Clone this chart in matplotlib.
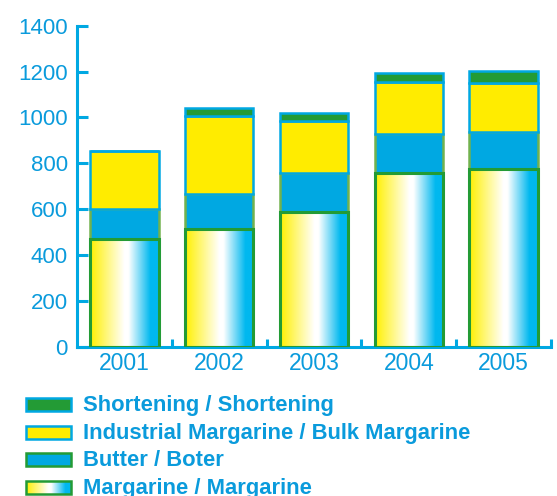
import numpy as np
import matplotlib
matplotlib.use('Agg')
import matplotlib.pyplot as plt
from matplotlib.patches import Rectangle
from matplotlib.colors import LinearSegmentedColormap

years = ['2001', '2002', '2003', '2004', '2005']
margarine = [468, 512, 586, 756, 776]
butter = [131, 154, 173, 172, 162]
industrial = [254, 340, 227, 225, 213]
shortening = [0, 34, 35, 39, 53]

labels = ['Shortening / Shortening',
          'Industrial Margarine / Bulk Margarine',
          'Butter / Boter',
          'Margarine / Margarine']

BLUE_TXT = '#0a9bdc'
BLUE = '#00a8e2'
YELLOW = '#ffec00'
GREEN = '#239b35'
LGREEN = '#72b24e'

grad = LinearSegmentedColormap.from_list(
    'marg', [(0, '#fff000'), (0.5, '#ffffff'), (0.56, '#ffffff'),
             (0.88, '#00b8ef'), (1, '#00b8ef')])

plt.rcParams['font.family'] = ['Liberation Sans', 'DejaVu Sans']

W, H = 557, 496
fig = plt.figure(figsize=(W / 100, H / 100), dpi=100)
ax = fig.add_axes([77 / W, 1 - 346.7 / H, 474 / W, 321 / H])

x = np.arange(len(years))
w = 0.72
m = np.array(margarine)
b = np.array(butter)
ind = np.array(industrial)
sh = np.array(shortening)

# margarine: gradient fill, green outline
gimg = np.linspace(0, 1, 200).reshape(1, -1)
for xi, v in zip(x, m):
    ax.imshow(gimg, cmap=grad, extent=[xi - w / 2, xi + w / 2, 0, v],
              aspect='auto', zorder=1)
ax.bar(x, m, w, facecolor='none', edgecolor=GREEN, linewidth=2.2, zorder=3)
ax.bar(x, b, w, bottom=m, facecolor=BLUE, edgecolor=LGREEN, linewidth=1.8, zorder=2)
ax.bar(x, ind, w, bottom=m + b, facecolor=YELLOW, edgecolor=BLUE, linewidth=1.8, zorder=2)
ax.bar(x, sh, w, bottom=m + b + ind, facecolor=GREEN, edgecolor=BLUE, linewidth=1.8, zorder=2)

ax.set_xlim(-0.5, len(years) - 0.5)
ax.set_ylim(0, 1400)
ax.set_yticks(range(0, 1401, 200))
ax.set_xticks(x)
ax.set_xticklabels(years)
ax.set_xticks(np.arange(0.5, len(years)), minor=True)

for s in ['top', 'right']:
    ax.spines[s].set_visible(False)
for s in ['left', 'bottom']:
    ax.spines[s].set_color(BLUE)
    ax.spines[s].set_linewidth(2.2)

ax.tick_params(axis='y', direction='in', length=8, width=2.2, color=BLUE,
               labelcolor=BLUE_TXT, labelsize=16, pad=6.5)
ax.tick_params(axis='x', which='major', length=0, labelcolor=BLUE_TXT,
               labelsize=16.5, pad=4)
ax.tick_params(axis='x', which='minor', direction='in', length=6, width=2.2, color=BLUE)

# legend, drawn by hand in pixel positions
faces = [GREEN, YELLOW, BLUE, None]
edges = [BLUE, BLUE, GREEN, GREEN]
for i, (lab, fc, ec) in enumerate(zip(labels, faces, edges)):
    yc = 404.7 + 27.5 * i
    x0, x1, hh = 26, 71, 12.7
    if fc is None:
        gax = fig.add_axes([x0 / W, 1 - (yc + hh / 2) / H, (x1 - x0) / W, hh / H])
        gax.imshow(gimg, cmap=grad, aspect='auto')
        gax.set_axis_off()
        fig.add_artist(Rectangle((x0 / W, 1 - (yc + hh / 2) / H), (x1 - x0) / W, hh / H,
                                 transform=fig.transFigure, facecolor='none',
                                 edgecolor=ec, linewidth=1.8, zorder=5))
    else:
        fig.add_artist(Rectangle((x0 / W, 1 - (yc + hh / 2) / H), (x1 - x0) / W, hh / H,
                                 transform=fig.transFigure, facecolor=fc,
                                 edgecolor=ec, linewidth=1.8))
    fig.text(83 / W, 1 - (yc + 6.5) / H, lab, color=BLUE_TXT, fontsize=15.8,
             fontweight='bold', va='baseline', ha='left')

fig.savefig('out.png', dpi=100)
